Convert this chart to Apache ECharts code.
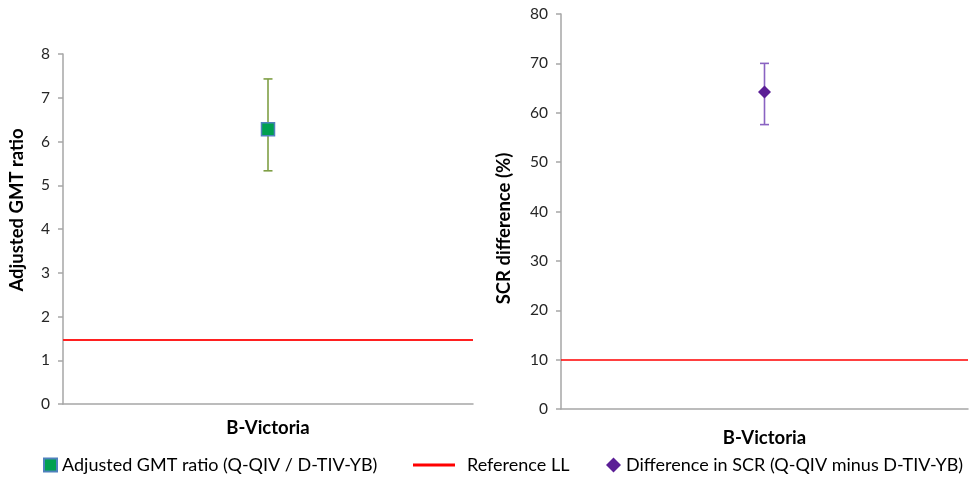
<!DOCTYPE html>
<html>
<head>
<meta charset="utf-8">
<script src="https://cdn.jsdelivr.net/npm/echarts@6/dist/echarts.min.js"></script>
<style>
html,body{margin:0;padding:0;background:#fff;}
#chart{width:972px;height:483px;}
</style>
</head>
<body>
<div id="chart"></div>
<script>
// ---- data ----
const categories = ['B-Victoria'];
const gmtRatio = [6.28];
const gmtLow = [5.33];
const gmtHigh = [7.43];
const gmtRefLL = [1.47];
const scrDiff = [64.2];
const scrLow = [57.6];
const scrHigh = [70.0];
const scrRefLL = [10];
const gmtTicks = { min: 0, max: 8, interval: 1 };
const scrTicks = { min: 0, max: 80, interval: 10 };

const FONT = 'Lato';
const chart = echarts.init(document.getElementById('chart'));

function errorBar(color) {
  return function (params, api) {
    const x = api.value(0);
    const lo = api.coord([x, api.value(1)]);
    const hi = api.coord([x, api.value(2)]);
    const w = 4.5;
    const st = { stroke: color, lineWidth: 1.6 };
    return {
      type: 'group',
      children: [
        { type: 'line', shape: { x1: lo[0], y1: lo[1], x2: hi[0], y2: hi[1] }, style: st },
        { type: 'line', shape: { x1: lo[0] - w, y1: lo[1], x2: lo[0] + w, y2: lo[1] }, style: st },
        { type: 'line', shape: { x1: hi[0] - w, y1: hi[1], x2: hi[0] + w, y2: hi[1] }, style: st }
      ]
    };
  };
}

const axisLineStyle = { color: '#A6A6A6', width: 1.5 };
function yAxis(idx, ticks, name, gap, pad) {
  return {
    gridIndex: idx, type: 'value', min: ticks.min, max: ticks.max, interval: ticks.interval,
    name: name, nameLocation: 'middle', nameGap: gap,
    nameTextStyle: { fontFamily: FONT, fontWeight: 'bold', fontSize: 18.5, color: '#000', padding: pad },
    axisLine: { show: true, lineStyle: axisLineStyle },
    axisTick: { show: true, length: 5, lineStyle: axisLineStyle },
    axisLabel: { fontFamily: FONT, fontSize: 15.5, color: '#262626', margin: 13 },
    splitLine: { show: false }
  };
}
function xAxis(idx, margin) {
  return {
    gridIndex: idx, type: 'category', data: categories,
    axisLine: { show: true, lineStyle: axisLineStyle },
    axisTick: { show: false },
    axisLabel: { fontFamily: FONT, fontSize: 18.5, fontWeight: 'bold', color: '#000', margin: margin }
  };
}

const legendText = { fontFamily: FONT, fontSize: 18, color: '#000' };
const option = {
  backgroundColor: '#fff',
  animation: false,
  grid: [
    { left: 63, top: 54, right: 499, bottom: 79 },
    { left: 561, top: 14, right: 4, bottom: 74 }
  ],
  xAxis: [xAxis(0, 15), xAxis(1, 20)],
  yAxis: [
    yAxis(0, gmtTicks, 'Adjusted GMT ratio', 36, [0, 0, 0, 38]),
    yAxis(1, scrTicks, 'SCR difference (%)', 47, [0, 34, 0, 0])
  ],
  legend: [
    { left: 43, top: 456, padding: 0, itemWidth: 13, itemHeight: 13, data: [{ name: 'Adjusted GMT ratio (Q-QIV / D-TIV-YB)', icon: 'rect' }],
      textStyle: legendText, selectedMode: false },
    { left: 413, top: 456, padding: 0, itemWidth: 42, itemHeight: 3, data: [{ name: 'Reference LL', icon: 'rect' }],
      textStyle: Object.assign({}, legendText, { padding: [0, 0, 0, 7] }), selectedMode: false },
    { left: 606, top: 456, padding: 0, itemWidth: 15, itemHeight: 15, data: [{ name: 'Difference in SCR (Q-QIV minus D-TIV-YB)', icon: 'diamond' }],
      textStyle: legendText, selectedMode: false }
  ],
  series: [
    {
      name: 'Reference LL', type: 'line', xAxisIndex: 0, yAxisIndex: 0,
      data: gmtRefLL, showSymbol: false, itemStyle: { color: '#FF0000' }, lineStyle: { color: '#FF0000', width: 2 },
      markLine: { silent: true, symbol: 'none', label: { show: false },
        lineStyle: { color: '#FF2020', width: 2.2, type: 'solid' },
        data: [{ yAxis: gmtRefLL[0] }] }
    },
    {
      name: 'Reference LL', type: 'line', xAxisIndex: 1, yAxisIndex: 1,
      data: scrRefLL, showSymbol: false, itemStyle: { color: '#FF0000' }, lineStyle: { color: '#FF0000', width: 2 },
      markLine: { silent: true, symbol: 'none', label: { show: false },
        lineStyle: { color: '#FF0000', width: 1.5, type: 'solid' },
        data: [{ yAxis: scrRefLL[0] }] }
    },
    {
      name: 'gmtErr', type: 'custom', xAxisIndex: 0, yAxisIndex: 0, z: 2,
      renderItem: errorBar('#7F9F45'),
      data: categories.map((c, i) => [i, gmtLow[i], gmtHigh[i]])
    },
    {
      name: 'Adjusted GMT ratio (Q-QIV / D-TIV-YB)', type: 'scatter', xAxisIndex: 0, yAxisIndex: 0, z: 5,
      symbol: 'rect', symbolSize: 13,
      itemStyle: { color: '#00A04F', borderColor: '#4F81BD', borderWidth: 1.5, opacity: 1 },
      data: gmtRatio
    },
    {
      name: 'scrErr', type: 'custom', xAxisIndex: 1, yAxisIndex: 1, z: 2,
      renderItem: errorBar('#8A63C2'),
      data: categories.map((c, i) => [i, scrLow[i], scrHigh[i]])
    },
    {
      name: 'Difference in SCR (Q-QIV minus D-TIV-YB)', type: 'scatter', xAxisIndex: 1, yAxisIndex: 1, z: 5,
      symbol: 'diamond', symbolSize: [13, 13],
      itemStyle: { color: '#5B1E96', opacity: 1 },
      data: scrDiff
    }
  ]
};
chart.setOption(option);
</script>
</body>
</html>
